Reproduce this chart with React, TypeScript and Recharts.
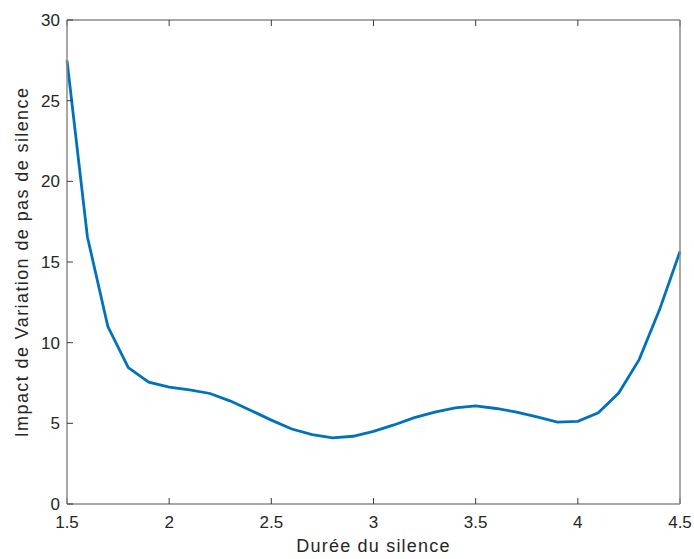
import { LineChart, Line, XAxis, YAxis } from 'recharts';

const DURATIONS = [
  1.5, 1.6, 1.7, 1.8, 1.9, 2.0, 2.1, 2.2, 2.3, 2.4, 2.5, 2.6, 2.7, 2.8, 2.9, 3.0,
  3.1, 3.2, 3.3, 3.4, 3.5, 3.6, 3.7, 3.8, 3.9, 4.0, 4.1, 4.2, 4.3, 4.4, 4.5,
];
const IMPACT = [
  27.5, 16.55, 11.0, 8.45, 7.55, 7.25, 7.08, 6.85, 6.38, 5.8, 5.2, 4.65, 4.3, 4.1, 4.2, 4.5,
  4.9, 5.35, 5.7, 5.96, 6.08, 5.92, 5.7, 5.4, 5.08, 5.12, 5.65, 6.88, 8.95, 12.05, 15.65,
];
const X_TICKS = [1.5, 2, 2.5, 3, 3.5, 4, 4.5];
const Y_TICKS = [0, 5, 10, 15, 20, 25, 30];

const data = DURATIONS.map((d, i) => ({ duree: d, impact: IMPACT[i] }));

const AXIS = '#8a8a8a';
const TICK = '#3c3c3c';
const TEXT = '#262626';
const FONT = '"Liberation Sans", Arial, sans-serif';

export default function App() {
  const tickStyle = { fill: TEXT, fontSize: 17, fontFamily: FONT };
  return (
    <div style={{ position: 'absolute', left: 0, top: 0, width: 694, height: 559, background: '#fff' }}>
      <LineChart width={694} height={559} data={data} margin={{ top: 19, right: 13, bottom: 0, left: 7 }}>
        <XAxis
          dataKey="duree"
          type="number"
          domain={[1.5, 4.5]}
          ticks={X_TICKS}
          height={55}
          tickSize={-6}
          tickMargin={18}
          tick={tickStyle}
          stroke={AXIS}
          strokeWidth={1.5}
          tickLine={{ stroke: TICK, strokeWidth: 1 }}
          label={{
            value: 'Durée du silence',
            position: 'insideBottom',
            offset: 7,
            fill: TEXT,
            fontSize: 18,
            fontFamily: FONT,
            style: { letterSpacing: '1.2px' },
          }}
        />
        <XAxis
          xAxisId="top"
          orientation="top"
          dataKey="duree"
          type="number"
          domain={[1.5, 4.5]}
          ticks={X_TICKS}
          height={1}
          tickSize={-6}
          tickFormatter={() => ''}
          stroke={AXIS}
          strokeWidth={1.5}
          tickLine={{ stroke: TICK, strokeWidth: 1 }}
        />
        <YAxis
          type="number"
          domain={[0, 30]}
          ticks={Y_TICKS}
          width={60}
          tickSize={-6}
          tickMargin={13}
          tick={tickStyle}
          stroke={AXIS}
          strokeWidth={1.5}
          tickLine={{ stroke: TICK, strokeWidth: 1 }}
          label={{
            value: 'Impact de Variation de pas de silence',
            angle: -90,
            position: 'insideLeft',
            offset: 15,
            fill: TEXT,
            fontSize: 18,
            fontFamily: FONT,
            style: { textAnchor: 'middle', letterSpacing: '1.4px' },
          }}
        />
        <YAxis
          yAxisId="right"
          orientation="right"
          type="number"
          domain={[0, 30]}
          ticks={Y_TICKS}
          width={1}
          tickSize={-6}
          tickFormatter={() => ''}
          stroke={AXIS}
          strokeWidth={1.5}
          tickLine={{ stroke: TICK, strokeWidth: 1 }}
        />
        <Line
          type="linear"
          dataKey="impact"
          stroke="#0072BD"
          strokeWidth={2.8}
          dot={false}
          isAnimationActive={false}
        />
      </LineChart>
    </div>
  );
}
